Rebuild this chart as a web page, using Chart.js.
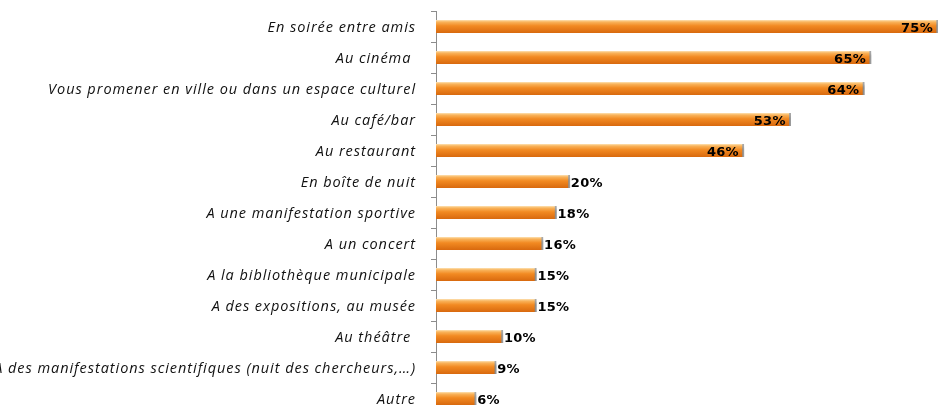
<!DOCTYPE html>
<html>
<head>
<meta charset="utf-8">
<script src="https://cdn.jsdelivr.net/npm/chart.js@4.4.1/dist/chart.umd.min.js"></script>
<style>
  html, body { margin: 0; padding: 0; background: #fff; overflow: hidden; }
  #wrap { width: 942px; height: 420px; }
</style>
</head>
<body>
<div id="wrap"><canvas id="chart" width="942" height="420"></canvas></div>
<script>
// -------------------- Data --------------------
const categories = [
  "En soirée entre amis",
  "Au cinéma ",
  "Vous promener en ville ou dans un espace culturel",
  "Au café/bar",
  "Au restaurant",
  "En boîte de nuit",
  "A une manifestation sportive",
  "A un concert",
  "A la bibliothèque municipale",
  "A des expositions, au musée",
  "Au théâtre ",
  "A des manifestations scientifiques (nuit des chercheurs,…)",
  "Autre"
];
const percents = [75, 65, 64, 53, 46, 20, 18, 16, 15, 15, 10, 9, 6];
const valueLabels = ["75%", "65%", "64%", "53%", "46%", "20%", "18%", "16%", "15%", "15%", "10%", "9%", "6%"];

const BAR_H = 13;

// -------------------- Bar gradient (3D look) --------------------
function barGradient(context) {
  const chart = context.chart;
  const y = chart.scales.y;
  const cy = y ? y.getPixelForValue(context.dataIndex) : NaN;
  if (!isFinite(cy)) return "#f08a22";
  const g = chart.ctx.createLinearGradient(0, cy - BAR_H / 2, 0, cy + BAR_H / 2);
  g.addColorStop(0, "#fde2b4");
  g.addColorStop(0.15, "#f9b45c");
  g.addColorStop(0.45, "#f28a22");
  g.addColorStop(1, "#d8690e");
  return g;
}

// -------------------- Shadow + value labels --------------------
const barStyle = {
  id: "barStyle",
  beforeDraw(chart) {
    // the category labels are drawn a bit loosely spaced
    chart.ctx.letterSpacing = "0.95px";
  },
  beforeDatasetsDraw(chart) {
    const ctx = chart.ctx;
    ctx.save();
    ctx.shadowColor = "rgba(0,0,0,0.35)";
    ctx.shadowOffsetX = 1;
    ctx.shadowOffsetY = 3;
    ctx.shadowBlur = 3;
  },
  afterDatasetsDraw(chart) {
    const ctx = chart.ctx;
    ctx.restore();
    const meta = chart.getDatasetMeta(0);
    ctx.save();
    ctx.letterSpacing = "0.3px";
    ctx.font = "bold 13px 'DejaVu Sans'";
    ctx.fillStyle = "#000";
    ctx.textBaseline = "middle";
    meta.data.forEach((bar, i) => {
      if (percents[i] >= 40) {
        ctx.textAlign = "right";
        ctx.fillText(valueLabels[i], bar.x - 5, bar.y + 2);
      } else {
        ctx.textAlign = "left";
        ctx.fillText(valueLabels[i], bar.x + 1, bar.y + 2);
      }
    });
    ctx.restore();
  }
};

// -------------------- Chart --------------------
new Chart(document.getElementById("chart"), {
  type: "bar",
  data: {
    labels: categories,
    datasets: [{
      data: percents,
      backgroundColor: barGradient,
      borderColor: "#a8a8a8",
      borderWidth: { top: 0, bottom: 0, left: 0, right: 2 },
      borderSkipped: false,
      barThickness: BAR_H
    }]
  },
  options: {
    indexAxis: "y",
    responsive: false,
    animation: false,
    layout: { padding: { top: 11, right: 4, bottom: 6, left: 0 } },
    plugins: {
      legend: { display: false },
      tooltip: { enabled: false }
    },
    scales: {
      x: {
        display: false,
        min: 0,
        max: 75
      },
      y: {
        afterFit(scale) {
          scale.width = 436;
          scale.paddingTop = 0;
          scale.paddingBottom = 0;
        },
        grid: {
          offset: true,
          drawOnChartArea: false,
          drawTicks: true,
          tickLength: 5,
          color: "#8c8c8c"
        },
        border: { color: "#8c8c8c", width: 1 },
        ticks: {
          padding: 15,
          labelOffset: 1,
          color: "#111",
          font: { family: "Open Sans", style: "italic", size: 14.5 }
        }
      }
    }
  },
  plugins: [barStyle]
});
</script>
</body>
</html>
